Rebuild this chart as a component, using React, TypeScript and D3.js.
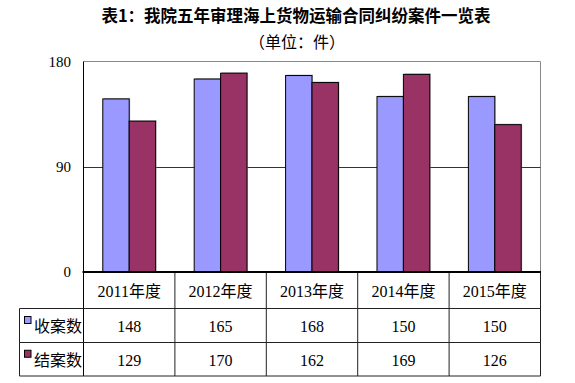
import React from "react";
import * as d3 from "d3";

const categories = ["2011年度", "2012年度", "2013年度", "2014年度", "2015年度"];
const seriesNames = ["收案数", "结案数"];
const received = [148, 165, 168, 150, 150];
const closed = [129, 170, 162, 169, 126];
const yTicks = [0, 90, 180];
const colors = ["#9999FF", "#993366"];

const W = 575;
const H = 383;
const plotLeft = 83.5;
const plotRight = 540.5;
const plotTop = 61.5;
const plotBottom = 272;
const headerBottom = 308.5;
const row1Bottom = 342.5;
const row2Bottom = 376;
const legendLeft = 19.5;

const serif = "'Liberation Serif', 'Noto Sans CJK SC', serif";

export default function App() {
  const x = d3.scaleBand<string>().domain(categories).range([plotLeft, plotRight]).padding(0);
  const xs = d3
    .scaleBand<string>()
    .domain(seriesNames)
    .range([0, x.bandwidth()])
    .paddingInner(0)
    .paddingOuter(0.73);
  const y = d3.scaleLinear().domain([0, 180]).range([plotBottom, plotTop]);
  const series = [received, closed];
  const rowCenters = [(headerBottom + row1Bottom) / 2, (row1Bottom + row2Bottom) / 2];

  return (
    <svg
      width={W}
      height={H}
      style={{ position: "absolute", left: 0, top: 0, background: "#fff" }}
      xmlns="http://www.w3.org/2000/svg"
    >
      <rect width={W} height={H} fill="#fff" />
      {/* Title */}
      <text
        x={296}
        y={15}
        textAnchor="middle"
        dominantBaseline="central"
        fontFamily="'Noto Sans CJK SC', sans-serif"
        fontWeight="bold"
        fontSize={16.5}
        fill="#000"
      >
        表1：我院五年审理海上货物运输合同纠纷案件一览表
      </text>
      <text
        x={297}
        y={41}
        textAnchor="middle"
        dominantBaseline="central"
        fontFamily="'Noto Sans CJK SC', sans-serif"
        fontSize={16}
        fill="#000"
      >
        （单位：件）
      </text>

      {/* Plot frame */}
      <line x1={plotLeft} x2={plotRight} y1={plotTop} y2={plotTop} stroke="#888" strokeWidth={1} />
      <line x1={plotRight} x2={plotRight} y1={plotTop} y2={plotBottom} stroke="#888" strokeWidth={1} />
      {yTicks
        .filter((t) => t !== 0 && t !== 180)
        .map((t) => (
          <line key={t} x1={plotLeft} x2={plotRight} y1={Math.round(y(t)) + 0.5} y2={Math.round(y(t)) + 0.5} stroke="#333" strokeWidth={1} />
        ))}

      {/* Bars */}
      {categories.map((c, i) =>
        seriesNames.map((s, j) => {
          const v = series[j][i];
          const bx = (x(c) as number) + (xs(s) as number);
          return (
            <g key={c + s}>
              <rect
                x={bx + 1}
                y={y(v) - 1}
                width={xs.bandwidth()}
                height={plotBottom - y(v) + 1}
                fill="#999"
                opacity={0.6}
              />
              <rect
                x={bx}
                y={y(v)}
                width={xs.bandwidth()}
                height={plotBottom - y(v)}
                fill={colors[j]}
                stroke="#000"
                strokeWidth={1}
              />
            </g>
          );
        })
      )}

      {/* Y tick labels */}
      {yTicks.map((t) => (
        <text
          key={t}
          x={71}
          y={y(t)}
          textAnchor="end"
          dominantBaseline="central"
          fontFamily={serif}
          fontSize={15}
          fill="#000"
        >
          {t}
        </text>
      ))}

      {/* Left axis line (continues into table) */}
      <line x1={plotLeft} x2={plotLeft} y1={plotTop} y2={row2Bottom} stroke="#000" strokeWidth={1} />

      {/* Table */}
      {categories.map((c, i) => (
        <line
          key={"v" + c}
          x1={(x(c) as number) + x.bandwidth()}
          x2={(x(c) as number) + x.bandwidth()}
          y1={plotBottom}
          y2={row2Bottom}
          stroke="#222"
          strokeWidth={1}
        />
      ))}
      <line x1={legendLeft} x2={plotRight} y1={headerBottom} y2={headerBottom} stroke="#222" strokeWidth={1} />
      <line x1={legendLeft} x2={plotRight} y1={row1Bottom} y2={row1Bottom} stroke="#222" strokeWidth={1} />
      <line x1={legendLeft} x2={plotRight} y1={row2Bottom} y2={row2Bottom} stroke="#222" strokeWidth={1} />
      <line x1={legendLeft} x2={legendLeft} y1={headerBottom} y2={row2Bottom} stroke="#222" strokeWidth={1} />
      <line x1={plotLeft - 1} x2={plotRight + 0.5} y1={plotBottom} y2={plotBottom} stroke="#000" strokeWidth={2} />

      {categories.map((c) => (
        <text
          key={"h" + c}
          x={(x(c) as number) + x.bandwidth() / 2}
          y={(plotBottom + headerBottom) / 2 + 1}
          textAnchor="middle"
          dominantBaseline="central"
          fontFamily={serif}
          fontSize={16}
          fill="#000"
        >
          {c}
        </text>
      ))}

      {seriesNames.map((s, j) => (
        <g key={"row" + s}>
          <rect
            x={24.5}
            y={rowCenters[j] - 9}
            width={6.5}
            height={7}
            fill={colors[j]}
            stroke="#000"
            strokeWidth={1}
          />
          <text
            x={34}
            y={rowCenters[j] + 1}
            dominantBaseline="central"
            fontFamily={serif}
            fontSize={16}
            fill="#000"
          >
            {s}
          </text>
          {categories.map((c, i) => (
            <text
              key={c}
              x={(x(c) as number) + x.bandwidth() / 2}
              y={rowCenters[j] + 1}
              textAnchor="middle"
              dominantBaseline="central"
              fontFamily={serif}
              fontSize={16}
              fill="#000"
            >
              {series[j][i]}
            </text>
          ))}
        </g>
      ))}
    </svg>
  );
}
